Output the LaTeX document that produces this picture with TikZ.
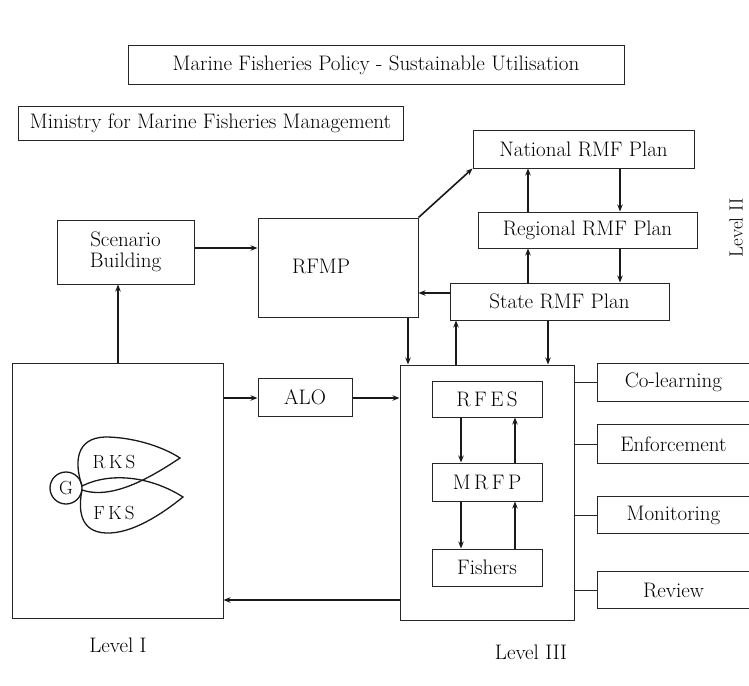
\documentclass[tikz,border=0pt]{standalone}
\usetikzlibrary{arrows.meta}
\begin{document}
\begin{tikzpicture}[x=1pt,y=-1pt,
  box/.style={draw=black!85, line width=1pt, inner sep=0pt, align=center, font=\fontsize{21}{24}\selectfont},
  txt/.style={inner sep=0pt, font=\fontsize{21}{24}\selectfont},
  boxline/.style={draw=black!85, line width=1pt},
  arr/.style={-{Stealth[length=7pt,width=5.5pt]}, line width=1.6pt, draw=black!90},
  leaf/.style={line width=1.3pt, draw=black!90}]
\useasboundingbox (0,0) rectangle (749,685);
% top boxes
\node[box, minimum width=496, minimum height=38] (title) at (376,65) {Marine Fisheries Policy - Sustainable Utilisation};
\node[box, minimum width=385, minimum height=34] (ministry) at (210.5,123) {Ministry for Marine Fisheries Management};
% level II plans
\node[box, minimum width=221, minimum height=38] (national) at (583.5,149) {National RMF Plan};
\node[box, minimum width=219, minimum height=36] (regional) at (587.5,230) {Regional RMF Plan};
\node[box, minimum width=219, minimum height=37] (state) at (559.5,301.5) {State RMF Plan};
\node[txt, rotate=90, font=\fontsize{19}{22}\selectfont] (lvl2) at (736,228) {Level II};
% middle
\node[box, minimum width=137, minimum height=64] (scen) at (125.5,252) {Scenario\\[-3pt]Building};
\node[box, minimum width=160, minimum height=99] (rfmp) at (338,267.5) {};
\node[txt] (rfmptxt) at (321,266) {RFMP};
% level I
\node[box, minimum width=211, minimum height=255] (lvl1) at (117.5,490.5) {};
\node[box, minimum width=94, minimum height=38] (alo) at (305,397) {ALO};
% level III
\node[box, minimum width=174, minimum height=255] (lvl3) at (487,492.5) {};
\node[box, minimum width=110, minimum height=36] (rfes) at (487,399) {R\,F\,E\,S};
\node[box, minimum width=110, minimum height=38] (mrfp) at (487,482) {M\,R\,F\,P};
\node[box, minimum width=110, minimum height=37] (fishers) at (487,567.5) {Fishers};
% side boxes (open at the right edge)
\node[txt, minimum width=151, minimum height=37] (colearn) at (673.5,382.5) {Co-learning};
\node[txt, minimum width=151, minimum height=38] (enforce) at (673.5,444) {Enforcement};
\node[txt, minimum width=151, minimum height=36] (monitor) at (673.5,515) {Monitoring};
\node[txt, minimum width=151, minimum height=36] (review) at (673.5,590) {Review};
\foreach \b in {colearn,enforce,monitor,review}{
  \draw[boxline] (\b.north east) -- (\b.north west) -- (\b.south west) -- (\b.south east);
  \draw[boxline] (\b.west) -- (\b.west -| lvl3.east);
}
% labels
\node[txt] (lab1) at (118,645) {Level I};
\node[txt] (lab3) at (531,652) {Level III};
% helper coordinates
\coordinate (c528) at (528,0);
\coordinate (c620) at (620,0);
\coordinate (c408) at (408,0);
\coordinate (c456) at (456,0);
\coordinate (c548) at (548,0);
\coordinate (c118) at (118,0);
\coordinate (c461) at (461,0);
\coordinate (c515) at (515,0);
\coordinate (y248) at (0,248);
\coordinate (y293) at (0,293);
\coordinate (y398) at (0,398);
\coordinate (y600) at (0,600);
% arrows level II
\draw[arr] (c528 |- regional.north) -- (c528 |- national.south);
\draw[arr] (c620 |- national.south) -- (c620 |- regional.north);
\draw[arr] (c528 |- state.north) -- (c528 |- regional.south);
\draw[arr] (c620 |- regional.south) -- (c620 |- state.north);
\draw[arr] (rfmp.north east) -- (national.south west);
\draw[arr] (state.west |- y293) -- (rfmp.east |- y293);
\draw[arr] (c408 |- rfmp.south) -- (c408 |- lvl3.north);
\draw[arr] (c456 |- lvl3.north) -- (c456 |- state.south);
\draw[arr] (c548 |- state.south) -- (c548 |- lvl3.north);
% arrows middle
\draw[arr] (scen.east |- y248) -- (rfmp.west |- y248);
\draw[arr] (c118 |- lvl1.north) -- (c118 |- scen.south);
\draw[arr] (lvl1.east |- y398) -- (alo.west |- y398);
\draw[arr] (alo.east |- y398) -- (lvl3.west |- y398);
\draw[arr] (lvl3.west |- y600) -- (lvl1.east |- y600);
% arrows inside level III
\draw[arr] (c461 |- rfes.south) -- (c461 |- mrfp.north);
\draw[arr] (c515 |- mrfp.north) -- (c515 |- rfes.south);
\draw[arr] (c461 |- mrfp.south) -- (c461 |- fishers.north);
\draw[arr] (c515 |- fishers.north) -- (c515 |- mrfp.south);
% G and leaves
\node[circle, draw=black!90, line width=1.3pt, minimum size=32, inner sep=0pt, font=\fontsize{19}{22}\selectfont] (g) at (66,488) {G};
\coordinate (t1) at (180,458);
\coordinate (t2) at (183,497);
\coordinate (a1) at (82,486);
\coordinate (a2) at (82,490);
\draw[leaf] (a1) .. controls (74,462) and (76,438) .. (105,437)
  .. controls (130,437) and (160,445) .. (t1)
  .. controls (150,478) and (112,500) .. (a2);
\draw[leaf] (a1) .. controls (110,472) and (150,476) .. (t2)
  .. controls (162,514) and (132,534) .. (106,533)
  .. controls (80,532) and (78,510) .. (a2);
\node[txt, font=\fontsize{19}{22}\selectfont] (rks) at (114,462) {R\,K\,S};
\node[txt, font=\fontsize{19}{22}\selectfont] (fks) at (114,513) {F\,K\,S};
\end{tikzpicture}
\end{document}
